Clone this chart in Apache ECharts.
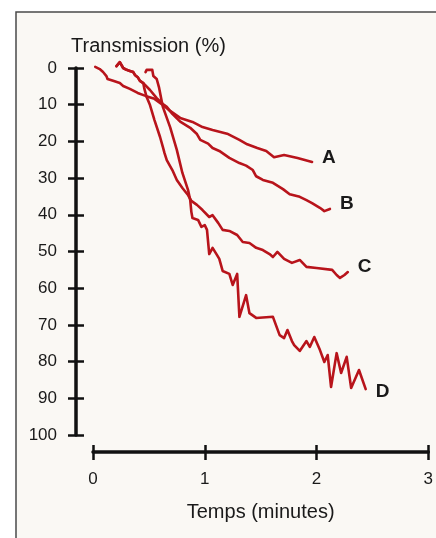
<!DOCTYPE html>
<html><head><meta charset="utf-8">
<script src="https://cdn.jsdelivr.net/npm/echarts@6/dist/echarts.min.js"></script>
<style>html,body{margin:0;padding:0;background:#fff}#c{width:436px;height:538px}</style>
</head><body><div id="c"></div>
<script>
// ---- data (x: minutes, y: transmission %) ----
const seriesNames = ['A', 'B', 'C', 'D'];
const xTickValues = [0, 1, 2, 3];
const yTickValues = [0, 10, 20, 30, 40, 50, 60, 70, 80, 90, 100];
const xAxisTitle = 'Temps (minutes)';
const yAxisTitle = 'Transmission (%)';

const curveA = [[0.02,-0.3],[0.06,0.3],[0.09,1.1],[0.12,2.2],[0.13,3.0],[0.18,3.5],[0.24,4.1],[0.27,4.9],[0.33,5.7],[0.40,6.8],[0.47,7.6],[0.55,8.4],[0.64,10.4],[0.69,11.7],[0.78,13.6],[0.89,14.7],[0.98,16.1],[1.07,16.9],[1.20,17.9],[1.31,19.6],[1.38,20.8],[1.47,21.8],[1.55,22.6],[1.62,24.3],[1.71,23.7],[1.83,24.5],[1.96,25.6]];
const curveB = [[0.21,-0.5],[0.24,-1.6],[0.27,0],[0.30,0.5],[0.33,0.8],[0.36,1.1],[0.375,1.9],[0.40,2.5],[0.42,3.5],[0.45,4.1],[0.51,6.0],[0.57,8.2],[0.625,9.8],[0.66,10.6],[0.71,12.5],[0.78,14.6],[0.87,16.3],[0.93,18.0],[0.96,19.6],[1.03,20.6],[1.07,21.8],[1.13,22.6],[1.22,24.5],[1.31,25.9],[1.37,26.6],[1.43,27.8],[1.46,29.5],[1.52,30.5],[1.61,31.3],[1.70,33.0],[1.76,34.4],[1.85,35.1],[1.91,36.0],[1.96,36.8],[2.03,38.1],[2.07,39.0],[2.12,38.4]];
const curveC = [[0.21,-0.5],[0.24,-1.6],[0.27,0],[0.30,0.5],[0.33,0.8],[0.36,1.1],[0.375,1.9],[0.40,2.5],[0.42,3.5],[0.45,4.1],[0.46,5.7],[0.48,7.9],[0.51,10.1],[0.55,14.2],[0.60,18.8],[0.625,21.5],[0.64,23.2],[0.66,25.1],[0.71,27.8],[0.75,30.5],[0.80,32.7],[0.85,34.6],[0.88,36.2],[0.93,37.3],[0.98,38.7],[1.04,40.6],[1.07,40.1],[1.12,42.2],[1.16,44.1],[1.22,44.4],[1.29,45.5],[1.34,47.4],[1.40,47.7],[1.46,49.0],[1.52,49.6],[1.58,50.7],[1.61,51.5],[1.65,50.1],[1.71,52.0],[1.78,53.1],[1.85,52.3],[1.91,54.2],[2.00,54.5],[2.14,55.0],[2.18,56.4],[2.21,57.2],[2.25,56.4],[2.28,55.6]];
const curveD = [[0.47,1.1],[0.48,0.5],[0.53,0.5],[0.54,2.2],[0.57,3.0],[0.59,5.2],[0.625,10.6],[0.69,16.1],[0.75,22.3],[0.80,28.6],[0.85,33.2],[0.87,36.0],[0.88,39.2],[0.89,40.9],[0.94,41.4],[0.97,43.3],[1.00,42.8],[1.02,44.1],[1.04,50.7],[1.07,49.0],[1.11,51.0],[1.13,52.0],[1.16,55.3],[1.22,56.1],[1.25,59.1],[1.29,56.1],[1.31,67.8],[1.37,61.9],[1.40,66.8],[1.46,68.1],[1.61,67.8],[1.67,72.8],[1.71,73.6],[1.74,71.4],[1.78,74.4],[1.80,75.5],[1.85,77.1],[1.91,74.4],[1.94,76.0],[1.98,73.3],[2.03,76.8],[2.07,80.1],[2.10,78.2],[2.13,86.9],[2.18,77.7],[2.22,83.1],[2.27,78.7],[2.31,87.2],[2.38,82.3],[2.44,87.5]];
const curves = [curveA, curveB, curveC, curveD];

// ---- chart ----
const FONT = 'Liberation Sans, Arial, Helvetica, sans-serif';
const INK = '#1a1a1a';
const RED = '#b8141b';
const labelOffsets = [[2,-4],[2,-5],[2,-5],[2,3]];

const chart = echarts.init(document.getElementById('c'), null, {renderer: 'canvas'});

const baseX = {type: 'value', min: 0, max: 3, interval: 1, position: 'bottom', offset: 17,
  splitLine: {show: false}};
const baseY = {type: 'value', min: 0, max: 100, interval: 10, inverse: true, position: 'left', offset: 17,
  splitLine: {show: false}};

chart.setOption({
  backgroundColor: '#ffffff',
  animation: false,
  graphic: [{
    type: 'rect', z: -10, silent: true,
    shape: {x: 16, y: 12, width: 440, height: 540},
    style: {fill: '#faf8f4', stroke: '#4a4a4a', lineWidth: 1.5}
  }],
  grid: {left: 93, right: 7, top: 68, bottom: 103, containLabel: false},
  xAxis: [
    Object.assign({}, baseX, {
      name: xAxisTitle, nameLocation: 'middle', nameGap: 50,
      nameTextStyle: {fontFamily: FONT, fontSize: 20, color: INK},
      axisLine: {show: true, onZero: false, lineStyle: {color: '#111', width: 3.5}},
      axisTick: {show: true, inside: false, length: 8, lineStyle: {color: '#111', width: 2.5}},
      axisLabel: {show: true, margin: 19, fontFamily: FONT, fontSize: 17, color: INK,
        formatter: v => xTickValues.includes(v) ? String(v) : ''}
    }),
    Object.assign({}, baseX, {
      axisLine: {show: false, onZero: false},
      axisTick: {show: true, inside: true, length: 7, lineStyle: {color: '#111', width: 2.5}},
      axisLabel: {show: false}
    })
  ],
  yAxis: [
    Object.assign({}, baseY, {
      name: yAxisTitle, nameLocation: 'start', nameGap: 12,
      nameTextStyle: {fontFamily: FONT, fontSize: 20, color: INK, align: 'left', padding: [0, 0, 0, -5]},
      axisLine: {show: true, onZero: false, lineStyle: {color: '#111', width: 3.5}},
      axisTick: {show: true, inside: false, length: 8, lineStyle: {color: '#111', width: 2.5}},
      axisLabel: {show: true, margin: 19, fontFamily: FONT, fontSize: 17, color: INK,
        formatter: v => yTickValues.includes(v) ? String(v) : ''}
    }),
    Object.assign({}, baseY, {
      axisLine: {show: false, onZero: false},
      axisTick: {show: true, inside: true, length: 8, lineStyle: {color: '#111', width: 2.5}},
      axisLabel: {show: false}
    })
  ],
  series: curves.map((d, i) => ({
    name: seriesNames[i], type: 'line', data: d, xAxisIndex: 0, yAxisIndex: 0,
    showSymbol: false, symbol: 'none', clip: false, smooth: false,
    lineStyle: {color: RED, width: 2.6, join: 'round', cap: 'round'},
    endLabel: {show: true, formatter: '{a}', distance: 8, offset: labelOffsets[i],
      fontFamily: FONT, fontWeight: 'bold', fontSize: 19, color: INK},
    emphasis: {disabled: true}
  }))
});
</script></body></html>
